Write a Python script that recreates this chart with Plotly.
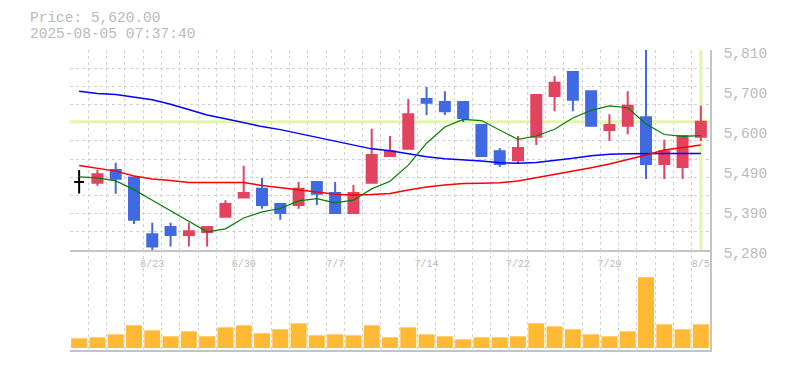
import plotly.graph_objects as go

# ---------------- data ----------------
dates = ["6/17", "6/18", "6/19", "6/20", "6/23", "6/24", "6/25", "6/26", "6/27",
         "6/30", "7/1", "7/2", "7/3", "7/4", "7/7", "7/8", "7/9", "7/10", "7/11",
         "7/14", "7/15", "7/16", "7/17", "7/18", "7/22", "7/23", "7/24", "7/25",
         "7/28", "7/29", "7/30", "7/31", "8/1", "8/4", "8/5"]

open_ = [5460, 5458, 5492, 5472, 5322, 5341, 5320, 5328, 5368, 5419, 5442, 5402,
         5399, 5460, 5431, 5378, 5458, 5529, 5548, 5680, 5672, 5672, 5611, 5542,
         5518, 5580, 5688, 5752, 5701, 5598, 5609, 5632, 5508, 5500, 5580]
high = [5492, 5492, 5511, 5472, 5352, 5352, 5352, 5341, 5412, 5503, 5471, 5402,
        5460, 5460, 5460, 5452, 5601, 5582, 5680, 5712, 5701, 5672, 5611, 5550,
        5582, 5691, 5741, 5752, 5701, 5640, 5701, 5810, 5572, 5582, 5662]
low = [5430, 5450, 5429, 5349, 5280, 5289, 5289, 5289, 5368, 5419, 5389, 5360,
       5389, 5399, 5378, 5378, 5458, 5529, 5548, 5638, 5638, 5619, 5529, 5500,
       5508, 5558, 5648, 5648, 5609, 5569, 5587, 5468, 5468, 5468, 5569]
close = [5460, 5481, 5469, 5360, 5289, 5320, 5330, 5341, 5402, 5431, 5399, 5378,
         5442, 5429, 5378, 5431, 5532, 5542, 5640, 5670, 5648, 5630, 5529, 5508,
         5550, 5691, 5723, 5678, 5609, 5611, 5662, 5508, 5542, 5582, 5620]

ma_short = [5474, 5471, 5463, 5440, 5412, 5384, 5354, 5328, 5336, 5365, 5381, 5390,
            5410, 5416, 5405, 5412, 5442, 5462, 5505, 5563, 5606, 5626, 5623, 5597,
            5573, 5582, 5600, 5630, 5650, 5662, 5657, 5614, 5586, 5581, 5583]
ma_mid = [5504, 5497, 5489, 5476, 5468, 5464, 5459, 5459, 5459, 5459, 5451, 5446,
          5439, 5434, 5428, 5426, 5427, 5430, 5439, 5447, 5452, 5456, 5457, 5458,
          5463, 5472, 5480, 5488, 5498, 5508, 5519, 5532, 5545, 5551, 5558]
ma_long = [5701, 5695, 5692, 5686, 5678, 5666, 5653, 5638, 5628, 5617, 5607, 5599,
           5589, 5579, 5570, 5558, 5548, 5543, 5534, 5527, 5522, 5519, 5516, 5511,
           5510, 5512, 5517, 5523, 5530, 5534, 5535, 5536, 5536, 5536, 5536]

volume = [29, 32, 41, 68, 53, 35, 50, 35, 62, 68, 44, 56, 74, 38, 41, 38, 68, 32,
          62, 41, 35, 26, 32, 32, 35, 74, 65, 56, 41, 35, 50, 212, 71, 56, 71]

tick_dates = ["6/23", "6/30", "7/7", "7/14", "7/22", "7/29", "8/5"]
price_ticks = [5280, 5386, 5492, 5598, 5704, 5810]
price_tick_text = ["5,280", "5,390", "5,490", "5,600", "5,700", "5,810"]
last_price = 5620
title_lines = ["Price: 5,620.00", "2025-08-05 07:37:40"]

# ---------------- styling ----------------
RED = "#e2435f"
BLUE = "#4169e1"
VOL = "#ffb934"
HILITE = "#e3f5a9"
GRID = "#d2d2d2"
AXIS = "#c4c4c4"
TXT = "#bababa"
MONO = "Liberation Mono"
W, H = 785, 370

x = list(range(len(dates)))
is_doji = [o == c for o, c in zip(open_, close)]
xi = [i for i in x if not is_doji[i]]
xd = [i for i in x if is_doji[i]]

fig = go.Figure()

# moving averages (below candles)
fig.add_trace(go.Scatter(x=x, y=ma_long, mode="lines", line=dict(color="#0000ff", width=1.5),
                         xaxis="x", yaxis="y", hoverinfo="skip"))
fig.add_trace(go.Scatter(x=x, y=ma_mid, mode="lines", line=dict(color="#ff0000", width=1.5),
                         xaxis="x", yaxis="y", hoverinfo="skip"))
fig.add_trace(go.Scatter(x=x, y=ma_short, mode="lines", line=dict(color="#008000", width=1.2),
                         xaxis="x", yaxis="y", hoverinfo="skip"))

fig.add_trace(go.Candlestick(
    x=xi, open=[open_[i] for i in xi], high=[high[i] for i in xi],
    low=[low[i] for i in xi], close=[close[i] for i in xi],
    increasing=dict(line=dict(color=RED, width=2), fillcolor=RED),
    decreasing=dict(line=dict(color=BLUE, width=2), fillcolor=BLUE),
    whiskerwidth=0, xaxis="x", yaxis="y"))
fig.add_trace(go.Candlestick(
    x=xd, open=[open_[i] for i in xd], high=[high[i] for i in xd],
    low=[low[i] for i in xd], close=[close[i] for i in xd],
    increasing=dict(line=dict(color="#000000", width=2), fillcolor="#000000"),
    decreasing=dict(line=dict(color="#000000", width=2), fillcolor="#000000"),
    whiskerwidth=0, xaxis="x", yaxis="y"))

fig.add_trace(go.Bar(x=x, y=volume, marker=dict(color=VOL, line=dict(width=0)),
                     width=0.876, xaxis="x2", yaxis="y2", hoverinfo="skip"))

x0, x1 = 70 / W, 710 / W
grid_minor = dict(tick0=-0.5, dtick=1, showgrid=True, gridcolor=GRID,
                  griddash="3px,3px", gridwidth=1)

fig.update_layout(
    template="none",
    width=W, height=H, margin=dict(l=0, r=0, t=0, b=0, pad=0, autoexpand=False),
    paper_bgcolor="white", plot_bgcolor="white", showlegend=False,
    boxgap=0.22,
    xaxis=dict(domain=[x0, x1], range=[-0.5, len(dates) - 0.5], rangeslider=dict(visible=False),
               tickvals=[dates.index(d) for d in tick_dates], ticktext=tick_dates,
               showgrid=False, minor=grid_minor, ticks="", zeroline=False, automargin=False,
               showline=True, linecolor=AXIS, linewidth=1.5,
               tickfont=dict(family=MONO, size=10, color=TXT), ticklabelstandoff=3),
    yaxis=dict(domain=[1 - 250 / H, 1 - 50 / H], range=[5280, 5810.01], side="right",
               tickvals=price_ticks, ticktext=price_tick_text, showgrid=False,
               minor=dict(tick0=5280, dtick=530 / 11, showgrid=True, gridcolor=GRID,
                          griddash="3px,3px", gridwidth=1),
               ticks="", zeroline=False, showline=True, linecolor=AXIS, linewidth=1.5,
               automargin=False,
               tickfont=dict(family=MONO, size=14.5, color=TXT),
               ticklabelstandoff=9, ticklabelshift=3),
    xaxis2=dict(domain=[x0, x1], range=[-0.5, len(dates) - 0.5], matches="x",
                anchor="y2", showticklabels=False, showgrid=False, minor=grid_minor,
                ticks="", zeroline=False, showline=True, linecolor=AXIS, linewidth=1.5,
                automargin=False),
    yaxis2=dict(domain=[1 - 350 / H, 1 - 250 / H], range=[-6, 294], side="right",
                anchor="x2", showticklabels=False, showgrid=False, ticks="",
                zeroline=False, showline=True, linecolor=AXIS, linewidth=1.5,
                automargin=False),
    shapes=[
        dict(type="line", xref="x", yref="y", x0=-0.5, x1=len(dates) - 0.5,
             y0=last_price, y1=last_price, line=dict(color=HILITE, width=3), layer="between"),
        dict(type="line", xref="x", yref="y", x0=len(dates) - 1, x1=len(dates) - 1,
             y0=5280, y1=5810, line=dict(color=HILITE, width=3), layer="between"),
    ],
    annotations=[
        dict(text=title_lines[0], xref="paper", yref="paper", x=29 / W, y=1 - 18 / H,
             xanchor="left", yanchor="middle", showarrow=False, borderpad=0,
             font=dict(family=MONO, size=14.5, color=TXT)),
        dict(text=title_lines[1], xref="paper", yref="paper", x=29 / W, y=1 - 34 / H,
             xanchor="left", yanchor="middle", showarrow=False, borderpad=0,
             font=dict(family=MONO, size=14.5, color=TXT)),
    ],
)

fig.write_html("out.html", config={"displayModeBar": False},
               post_script="document.body.style.margin='0';document.body.style.padding='0';")
